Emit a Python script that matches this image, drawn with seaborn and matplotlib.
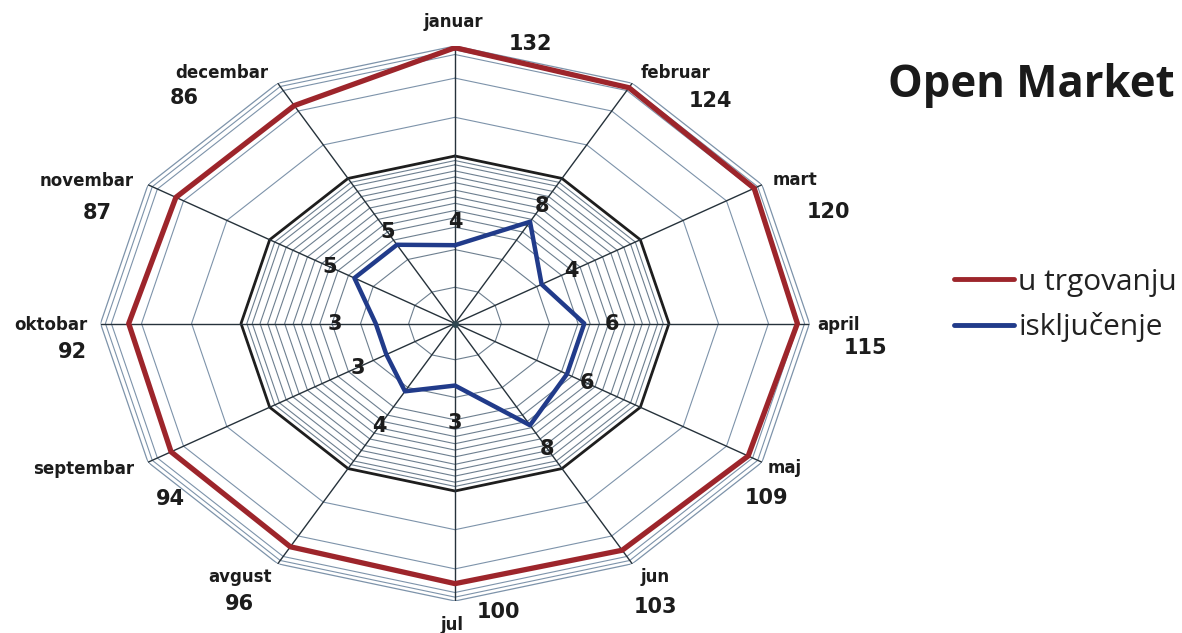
import numpy as np
import pandas as pd
import matplotlib
matplotlib.use("Agg")
import matplotlib.pyplot as plt
from matplotlib.lines import Line2D
from matplotlib.ticker import NullLocator
import seaborn as sns

# ---- data -------------------------------------------------------------
months = ["januar", "februar", "mart", "april", "maj", "jun",
          "jul", "avgust", "septembar", "oktobar", "novembar", "decembar"]
u_trgovanju = [132, 124, 120, 115, 109, 103, 100, 96, 94, 92, 87, 86]
iskljucenje = [4, 8, 4, 6, 6, 8, 3, 4, 3, 3, 5, 5]
series_names = ["u trgovanju", "isključenje"]
title = "Open Market"

# value-axis rings (logarithmic radial scale starting at 1)
fine_rings = [1.9, 3.7, 5.5, 6.5, 7.4, 8.4, 9.4, 10.6, 12.1, 13.4, 14.9, 16.6, 17.9]
main_ring = 19.4
outer_rings = [38.5, 77, 117, 127]
r_max = 136

# ---- styling ----------------------------------------------------------
red = "#9d252b"
blue = "#213b8a"
text_dark = "#1c1c1c"

# label offsets in pixels from each outer vertex (dx, dy with y upwards)
month_off = [(-2, 24), (43, 10), (33, 5), (29, -1), (23, -6), (23, -13),
             (-3, -24), (-38, -13), (-64, -7), (-50, -1), (-61, 4), (-56, 10)]
total_off = [(75, 2), (78, -18), (66, -27), (56, -25), (4, -36), (23, -43),
             (43, -11), (-38, -40), (22, -37), (-28, -28), (-51, -28), (-93, -15)]
# distance (px) of the small value labels beyond each blue vertex
value_gap = [23, 18, 27, 22, 18, 27, 37, 40, 26, 32, 22, 15]

sns.set_theme(style="white")
plt.rcParams["font.family"] = ["DejaVu Sans"]

W, H = 1182, 633
fig = plt.figure(figsize=(W / 100, H / 100), dpi=100)
fig.patch.set_facecolor("white")

cx, cy = 455, 323.5          # centre in pixels (from top)
rx, ry = 354.5, 277.5        # horizontal / vertical radius in pixels
ax = fig.add_axes([(cx - rx) / W, (H - cy - ry) / H, 2 * rx / W, 2 * ry / H],
                  projection="polar")
ax.set_aspect("auto")
ax.set_theta_zero_location("N")
ax.set_theta_direction(-1)
ax.set_rscale("log")

n = len(months)
theta = np.linspace(0, 2 * np.pi, n + 1)
ang = theta[:-1]

# grid polygons
for r in fine_rings:
    ax.plot(theta, [r] * (n + 1), color="#6d7f8f", lw=0.8, zorder=1)
for r in outer_rings:
    ax.plot(theta, [r] * (n + 1), color="#7d93aa", lw=0.8, zorder=1)
ax.plot(theta, [r_max] * (n + 1), color="#7d93aa", lw=0.9, zorder=1)
ax.plot(theta, [main_ring] * (n + 1), color="#1e1e1e", lw=2.0, zorder=2)

# spokes
for t in ang:
    ax.plot([t, t], [1, r_max], color="#26323b", lw=1.0, zorder=2)
ax.plot([0], [1], "o", color="#2f4650", ms=4, zorder=3)

# series
df = pd.DataFrame({
    "theta": np.concatenate([theta, theta]),
    "value": u_trgovanju + u_trgovanju[:1] + iskljucenje + iskljucenje[:1],
    "series": [series_names[0]] * (n + 1) + [series_names[1]] * (n + 1),
})
sns.lineplot(data=df[df.series == series_names[0]], x="theta", y="value",
             sort=False, estimator=None, color=red, lw=3.8, ax=ax,
             legend=False, zorder=5)
sns.lineplot(data=df[df.series == series_names[1]], x="theta", y="value",
             sort=False, estimator=None, color=blue, lw=3.2, ax=ax,
             legend=False, zorder=5)

ax.set_rlim(1, r_max)
ax.grid(False)
ax.set_xticks([])
ax.set_yticks([])
ax.yaxis.set_minor_locator(NullLocator())
ax.set_xlabel("")
ax.set_ylabel("")
ax.spines["polar"].set_visible(False)
ax.patch.set_alpha(0)

# labels
for i, t in enumerate(ang):
    ax.annotate(months[i], xy=(t, r_max), xytext=month_off[i],
                textcoords="offset pixels", ha="center", va="center",
                fontsize=12, fontweight="bold", color=text_dark,
                annotation_clip=False)
    ax.annotate(str(u_trgovanju[i]), xy=(t, r_max), xytext=total_off[i],
                textcoords="offset pixels", ha="center", va="center",
                fontsize=15, fontweight="bold", color=text_dark,
                annotation_clip=False)
    g = value_gap[i]
    ax.annotate(str(iskljucenje[i]), xy=(t, iskljucenje[i]),
                xytext=(g * rx / ry * np.sin(t), g * np.cos(t)),
                textcoords="offset pixels", ha="center", va="center",
                fontsize=15, fontweight="bold", color=text_dark,
                annotation_clip=False)

fig.text(888 / W, 1 - 97 / H, title, ha="left", va="baseline",
         fontsize=31.5, fontweight="bold", color="#1a1a1a", family="Open Sans")

handles = [Line2D([0], [0], color=red, lw=3.5),
           Line2D([0], [0], color=blue, lw=3.5)]
fig.legend(handles, series_names, loc="center left",
           bbox_to_anchor=(954 / W, 1 - 305 / H), frameon=False,
           prop={"family": "Open Sans", "size": 21.5},
           handlelength=2.0, handletextpad=0.15, labelspacing=0.52,
           borderpad=0, borderaxespad=0, labelcolor="#222222")

fig.savefig("out.png", dpi=100, facecolor="white")
